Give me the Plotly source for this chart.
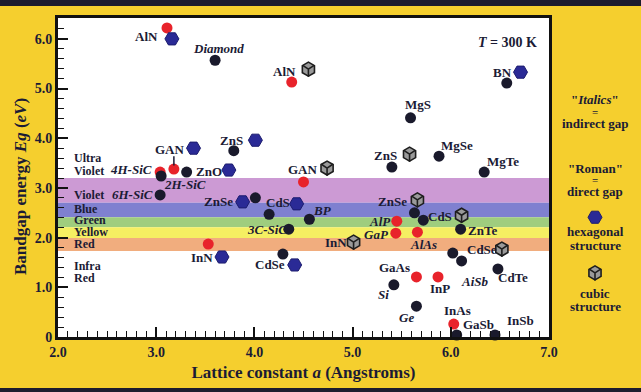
import plotly.graph_objects as go

# ---------------- data ----------------
# direct gap points (red circles)
direct_x = [3.11, 4.38, 3.04, 3.18, 4.50, 3.53, 5.45, 5.44, 5.66, 5.65, 5.87, 6.03]
direct_y = [6.22, 5.13, 3.32, 3.38, 3.12, 1.87, 2.33, 2.09, 2.11, 1.21, 1.21, 0.26]

# other compounds (dark circles)
dark_x = [3.60, 3.79, 3.05, 3.31, 3.04, 4.01, 4.15, 4.56, 4.35, 4.29, 6.57, 5.59, 5.40,
          5.88, 6.34, 5.63, 5.72, 6.10, 6.02, 6.11, 6.48, 5.42, 5.65, 6.06, 6.45]
dark_y = [5.57, 3.75, 3.24, 3.32, 2.86, 2.80, 2.47, 2.37, 2.17, 1.67, 5.11, 4.41, 3.42,
          3.64, 3.32, 2.50, 2.35, 2.17, 1.69, 1.53, 1.37, 1.05, 0.62, 0.04, 0.04]

# hexagonal structure markers
hex_x = [3.16, 3.38, 4.01, 3.74, 3.88, 4.43, 3.67, 4.41, 6.71]
hex_y = [6.00, 3.80, 3.96, 3.36, 2.72, 2.68, 1.61, 1.45, 5.33]

# cubic structure markers
cub_x = [4.55, 4.74, 5.58, 5.66, 6.11, 5.01, 6.52]
cub_y = [5.39, 3.40, 3.68, 2.76, 2.45, 1.91, 1.77]

# point labels: text, x, y, italic (indirect gap)
labels = [
    ("AlN", 2.90, 6.04, False), ("Diamond", 3.63, 5.81, True), ("AlN", 4.31, 5.35, False),
    ("GAN", 3.14, 3.78, False), ("ZnS", 3.77, 3.96, False), ("4H-SiC", 2.74, 3.38, True),
    ("ZnO", 3.54, 3.34, False), ("2H-SiC", 3.29, 3.06, True), ("6H-SiC", 2.76, 2.86, True),
    ("GAN", 4.49, 3.38, False), ("ZnSe", 3.63, 2.72, False), ("CdS", 4.24, 2.70, False),
    ("BP", 4.69, 2.54, True), ("3C-SiC", 4.13, 2.17, True), ("InN", 3.47, 1.61, False),
    ("CdSe", 4.16, 1.45, False), ("InN", 4.83, 1.91, False), ("ZnSe", 5.41, 2.72, False),
    ("CdS", 5.89, 2.43, False), ("ZnTe", 6.32, 2.15, False), ("AlP", 5.28, 2.33, True),
    ("GaP", 5.24, 2.07, True), ("AlAs", 5.72, 1.87, True), ("CdSe", 6.32, 1.77, False),
    ("AiSb", 6.25, 1.11, True), ("CdTe", 6.63, 1.19, False), ("GaAs", 5.43, 1.39, False),
    ("InP", 5.89, 0.97, False), ("Si", 5.31, 0.85, True), ("Ge", 5.55, 0.40, True),
    ("InAs", 6.07, 0.54, False), ("GaSb", 6.28, 0.26, False), ("InSb", 6.71, 0.34, False),
    ("BN", 6.53, 5.33, False), ("MgS", 5.67, 4.67, False), ("ZnS", 5.34, 3.66, False),
    ("MgSe", 6.06, 3.86, False), ("MgTe", 6.53, 3.54, False),
]

# visible spectrum bands (eV)
band_lo = [2.70, 2.41, 2.21, 1.99, 1.73]
band_hi = [3.20, 2.70, 2.41, 2.21, 1.99]
band_colors = ["#cc9ad4", "#7f80d0", "#9fcd7e", "#f5ef62", "#f1ad7e"]

band_names = ["Ultra", "Violet", "Violet", "Blue", "Green", "Yellow", "Red", "Infra", "Red"]
band_name_y = [3.60, 3.34, 2.86, 2.58, 2.35, 2.11, 1.87, 1.43, 1.19]

x_ticks = [2, 3, 4, 5, 6, 7]
x_ticktext = ["2.0", "3.0", "4.0", "5.0", "6.0", "7.0"]
y_ticks = [0, 1, 2, 3, 4, 5, 6]
y_ticktext = ["0", "1.0", "2.0", "3.0", "4.0", "5.0", "6.0"]

X_RANGE = [2, 7]
Y_RANGE = [0, 6.42]

# legend key markers (in the side panel, y in eV scale)
key_y = [2.41, 1.29]

# ---------------- figure ----------------
INK = "#1b1b35"
YEL = "#f5cf2e"
FONT = "Liberation Serif"
W, H = 641, 392
ML, MR, MT, MB = 58, 0, 18, 55
PLOT_R = 549                      # right edge of main plot (px)
PW_ALL = W - ML - MR
PH = H - MT - MB
split = (PLOT_R - ML) / PW_ALL
LEG_CX = 595                      # centre of side legend (px)

fig = go.Figure()

fig.add_trace(go.Scatter(x=direct_x, y=direct_y, mode="markers", cliponaxis=False,
                         marker=dict(symbol="circle", size=11, color="#e8232b", line=dict(width=0)),
                         hoverinfo="skip", showlegend=False))
fig.add_trace(go.Scatter(x=dark_x, y=dark_y, mode="markers", cliponaxis=False,
                         marker=dict(symbol="circle", size=11, color="#1a1a2c", line=dict(width=0)),
                         hoverinfo="skip", showlegend=False))

hex_marker = dict(symbol="hexagon2", size=14, color="#2a2a96", line=dict(width=1, color="#1c1c6e"))
cube_marker = dict(symbol="hexagon", size=14, color="#9a9a9a", line=dict(width=1.6, color="#1e1e1e"))
cube_edges = dict(symbol="y-down", size=9.5, color="#1e1e1e", line=dict(width=1.6, color="#1e1e1e"))

fig.add_trace(go.Scatter(x=hex_x, y=hex_y, mode="markers", cliponaxis=False, marker=hex_marker,
                         hoverinfo="skip", showlegend=False))
fig.add_trace(go.Scatter(x=cub_x, y=cub_y, mode="markers", cliponaxis=False, marker=cube_marker,
                         hoverinfo="skip", showlegend=False))
fig.add_trace(go.Scatter(x=cub_x, y=cub_y, mode="markers", cliponaxis=False, marker=cube_edges,
                         hoverinfo="skip", showlegend=False))

# legend key markers on a hidden side subplot
kx = (LEG_CX - PLOT_R) / (W - MR - PLOT_R)
fig.add_trace(go.Scatter(x=[kx], y=[key_y[0]], xaxis="x2", yaxis="y2", mode="markers",
                         marker=hex_marker, hoverinfo="skip", showlegend=False))
fig.add_trace(go.Scatter(x=[kx], y=[key_y[1]], xaxis="x2", yaxis="y2", mode="markers",
                         marker=cube_marker, hoverinfo="skip", showlegend=False))
fig.add_trace(go.Scatter(x=[kx], y=[key_y[1]], xaxis="x2", yaxis="y2", mode="markers",
                         marker=cube_edges, hoverinfo="skip", showlegend=False))

shapes = []
# white plotting area
shapes.append(dict(type="rect", xref="x", yref="y", x0=X_RANGE[0], x1=X_RANGE[1],
                   y0=Y_RANGE[0], y1=Y_RANGE[1], fillcolor="white", line=dict(width=0), layer="below"))
for lo, hi, c in zip(band_lo, band_hi, band_colors):
    shapes.append(dict(type="rect", xref="x", yref="y", x0=X_RANGE[0], x1=X_RANGE[1], y0=lo, y1=hi,
                       fillcolor=c, line=dict(width=0), layer="below"))
# GaN pointer line
shapes.append(dict(type="line", xref="x", yref="y", x0=3.18, x1=3.18, y0=3.45, y1=3.64,
                   line=dict(color=INK, width=1.5)))
# dark frame strips top/bottom (kept inside the paper horizontally)
shapes.append(dict(type="rect", xref="paper", yref="paper", x0=-ML / PW_ALL, x1=1,
                   y0=1 + (MT - 6) / PH, y1=1 + MT / PH,
                   fillcolor="#1c1c2e", line=dict(width=0), layer="below"))
shapes.append(dict(type="rect", xref="paper", yref="paper", x0=-ML / PW_ALL, x1=1,
                   y0=-MB / PH, y1=-(MB - 4) / PH,
                   fillcolor="#1c1c2e", line=dict(width=0), layer="below"))

ann = []
for t, x, y, it in labels:
    txt = f"<b><i>{t}</i></b>" if it else f"<b>{t}</b>"
    ann.append(dict(x=x, y=y, xref="x", yref="y", text=txt, showarrow=False,
                    xanchor="center", yanchor="middle",
                    font=dict(family=FONT, size=13, color=INK)))
for t, y in zip(band_names, band_name_y):
    ann.append(dict(x=2.14, y=y, xref="x", yref="y", text=f"<b>{t}</b>", showarrow=False,
                    xanchor="left", yanchor="middle", font=dict(family=FONT, size=12, color=INK)))
ann.append(dict(x=6.9, y=5.92, xref="x", yref="y", text="<b><i>T</i> = 300 K</b>", showarrow=False,
                xanchor="right", yanchor="middle", font=dict(family=FONT, size=14, color=INK)))

# y-axis title as rotated annotation (slightly below plot centre, as in the reference)
ann.append(dict(x=(20 - ML) / PW_ALL, y=(H - MB - 187) / PH, xref="paper", yref="paper",
                text="<b>Bandgap energy <i>Eg</i> (<i>eV</i>)</b>", textangle=-90, showarrow=False,
                xanchor="center", yanchor="middle", font=dict(family=FONT, size=17, color=INK)))

legend_lines = [('<b>"<i>Italics</i>"</b>', 13, 99), ("<b>=</b>", 11, 112), ("<b>indirect gap</b>", 13, 123),
                ('<b>"Roman"</b>', 13, 168), ("<b>=</b>", 11, 180), ("<b>direct gap</b>", 13, 191),
                ("<b>hexagonal</b>", 13, 232), ("<b>structure</b>", 13, 245),
                ("<b>cubic</b>", 13, 293), ("<b>structure</b>", 13, 306)]
for t, fs, py in legend_lines:
    ann.append(dict(x=(LEG_CX - ML) / PW_ALL, y=(H - MB - py) / PH, xref="paper", yref="paper",
                    text=t, showarrow=False, xanchor="center", yanchor="middle",
                    font=dict(family=FONT, size=fs, color=INK)))

fig.update_layout(
    width=W, height=H, autosize=False,
    margin=dict(l=ML, r=MR, t=MT, b=MB, pad=0, autoexpand=False),
    paper_bgcolor=YEL,
    plot_bgcolor="rgba(0,0,0,0)",
    shapes=shapes,
    annotations=ann,
    showlegend=False,
    xaxis=dict(domain=[0, split], range=X_RANGE, tickvals=x_ticks, ticktext=x_ticktext,
               ticks="inside", ticklen=10, tickwidth=1.5, tickcolor="#111",
               minor=dict(dtick=0.1, tick0=2, ticks="inside", ticklen=6, tickwidth=1.2, tickcolor="#111"),
               showgrid=False, zeroline=False, showline=True, linewidth=3, linecolor="#111",
               mirror=True, fixedrange=True, automargin=False,
               tickfont=dict(family=FONT, size=14, color=INK, weight="bold"),
               title=dict(text="<b>Lattice constant <i>a</i> (Angstroms)</b>", standoff=8,
                          font=dict(family=FONT, size=17, color=INK))),
    yaxis=dict(range=Y_RANGE, tickvals=y_ticks, ticktext=y_ticktext,
               ticks="inside", ticklen=10, tickwidth=1.5, tickcolor="#111",
               minor=dict(dtick=0.2, tick0=0, ticks="inside", ticklen=6, tickwidth=1.2, tickcolor="#111"),
               showgrid=False, zeroline=False, showline=True, linewidth=3, linecolor="#111",
               mirror=True, fixedrange=True, automargin=False,
               tickfont=dict(family=FONT, size=14, color=INK, weight="bold")),
    xaxis2=dict(domain=[split, 1], range=[0, 1], visible=False, anchor="y2", fixedrange=True),
    yaxis2=dict(domain=[0, 1], range=Y_RANGE, visible=False, anchor="x2", fixedrange=True),
)

post = (
    "document.documentElement.style.margin='0';"
    "document.documentElement.style.overflow='hidden';"
    "document.documentElement.style.background='" + YEL + "';"
    "document.body.style.margin='0';"
    "document.body.style.padding='0';"
    "document.body.style.overflow='hidden';"
    "document.body.style.background='" + YEL + "';"
)

fig.write_html("out.html", config={"displayModeBar": False, "responsive": False},
               post_script=post)
